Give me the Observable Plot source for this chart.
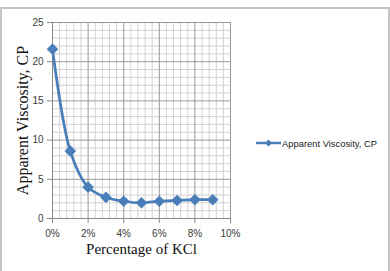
<!DOCTYPE html>
<html>
<head>
<meta charset="utf-8">
<script src="https://cdn.jsdelivr.net/npm/d3@7"></script>
<script src="https://cdn.jsdelivr.net/npm/@observablehq/plot@0.6"></script>
<style>
  html, body { margin: 0; padding: 0; background: #fff; overflow: hidden; }
  #wrap { position: relative; width: 390px; height: 271px; }
  #frame { position: absolute; left: 0px; top: 7px; width: 386px; height: 300px;
           border: 2px solid #c4c4c4; box-sizing: content-box; }
  #chart { position: absolute; left: 0; top: 0; }
  #legend { position: absolute; left: 256px; top: 136px; display: flex; align-items: center;
            font-family: "Liberation Sans", sans-serif; font-size: 9.4px; color: #222; white-space: nowrap; }
  #legend svg { display: block; margin-right: 1px; }
</style>
</head>
<body>
<div id="wrap">
  <div id="frame"></div>
  <div id="chart"></div>
  <div id="legend"></div>
</div>
<script>
// KCl concentration (fraction) and measured apparent viscosity (cP)
const kcl = [0, 0.01, 0.02, 0.03, 0.04, 0.05, 0.06, 0.07, 0.08, 0.09];
const viscosity = [21.6, 8.6, 4.0, 2.7, 2.2, 2.0, 2.2, 2.3, 2.4, 2.4];
const seriesName = "Apparent Viscosity, CP";
const xTicks = [0, 0.02, 0.04, 0.06, 0.08, 0.10];
const yTicks = [0, 5, 10, 15, 20, 25];
// minor gridlines: every 0.4 % along x, every 1 cP along y
const xMinor = d3.range(0, 26).filter(i => i % 5 !== 0).map(i => i * 0.004);
const yMinor = d3.range(0, 26).filter(v => v % 5 !== 0);
const xTitle = "Percentage of KCl";
const yTitle = "Apparent Viscosity, CP";

const color = "#4a7ebb";
const data = kcl.map((x, i) => ({x, y: viscosity[i]}));

const chart = Plot.plot({
  width: 390,
  height: 271,
  marginLeft: 52,
  marginRight: 160,
  marginTop: 22,
  marginBottom: 53,
  style: {fontFamily: "'Liberation Sans', sans-serif", fontSize: "10px", color: "#333", background: "transparent"},
  x: {domain: [0, 0.1], ticks: xTicks, tickFormat: d3.format(".0%"), label: null},
  y: {domain: [0, 25], ticks: yTicks, label: null},
  marks: [
    // minor gridlines
    Plot.ruleX(xMinor, {stroke: "#d2d2d2", strokeWidth: 1}),
    Plot.ruleY(yMinor, {stroke: "#d2d2d2", strokeWidth: 1}),
    // major gridlines
    Plot.ruleX(xTicks, {stroke: "#999", strokeWidth: 1}),
    Plot.ruleY(yTicks, {stroke: "#999", strokeWidth: 1}),
    // axes
    Plot.axisX({ticks: xTicks, tickFormat: d3.format(".0%"), tickSize: 5, tickPadding: 6, stroke: "#888", label: null, fill: "#3a3a3a"}),
    Plot.axisY({ticks: yTicks, tickSize: 5, tickPadding: 4, stroke: "#888", label: null, fill: "#3a3a3a"}),
    Plot.ruleX([0], {stroke: "#888"}),
    Plot.ruleY([0], {stroke: "#888"}),
    // series
    Plot.line(data, {x: "x", y: "y", stroke: color, strokeWidth: 2.75, curve: "catmull-rom"}),
    Plot.dot(data, {x: "x", y: "y", symbol: "diamond2", r: 5, fill: color, stroke: color, strokeWidth: 0.5}),
    // axis titles
    Plot.text([xTitle], {frameAnchor: "bottom", dy: 35, text: d => d, textAnchor: "middle", fontFamily: "'Liberation Serif', serif", fontSize: 15, fill: "#111"}),
    Plot.text([yTitle], {frameAnchor: "left", dx: -30, rotate: -90, text: d => d, textAnchor: "middle", fontFamily: "'Liberation Serif', serif", fontSize: 16, fill: "#111"})
  ]
});
document.getElementById("chart").appendChild(chart);

// legend entry
const legend = document.getElementById("legend");
const sw = d3.create("svg").attr("width", 25).attr("height", 14);
sw.append("line").attr("x1", 0).attr("x2", 25).attr("y1", 7).attr("y2", 7)
  .attr("stroke", color).attr("stroke-width", 2.5);
sw.append("path").attr("d", "M12.5,3.5L16,7L12.5,10.5L9,7Z").attr("fill", color);
legend.appendChild(sw.node());
const lt = document.createElement("span");
lt.textContent = seriesName;
legend.appendChild(lt);
</script>
</body>
</html>
